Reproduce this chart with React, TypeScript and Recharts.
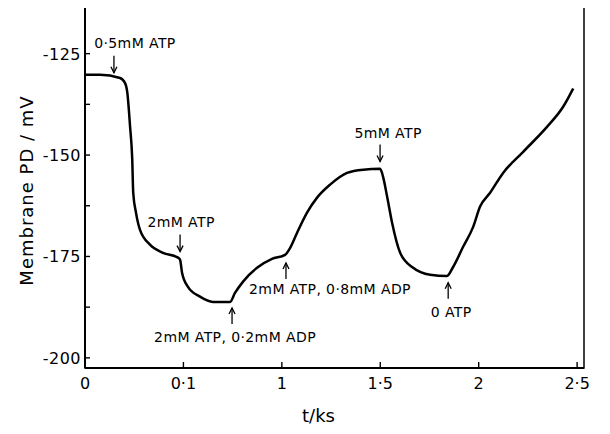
import React from 'react';
import { LineChart, Line, XAxis, YAxis, ReferenceArea, ReferenceDot, Label } from 'recharts';

const timeKs = [
  0, 0.076, 0.178, 0.203, 0.215, 0.229, 0.24, 0.245, 0.259, 0.279, 0.33, 0.396, 0.473, 0.483,
  0.493, 0.523, 0.584, 0.65, 0.737, 0.762, 0.803, 0.874, 0.95, 1.016, 1.042, 1.077,
  1.128, 1.179, 1.245, 1.331, 1.413, 1.499, 1.514, 1.535, 1.56, 1.601, 1.667,
  1.753, 1.839, 1.87, 1.921, 1.972, 2.007, 2.058, 2.124, 2.226, 2.348, 2.429, 2.48,
];
const membranePD = [
  -130.2, -130.2, -131.0, -132.2, -134.6, -143.0, -151.1, -159.3, -164.2, -168.4, -172.1, -174.1, -175.3, -175.8,
  -179.0, -182.5, -184.9, -186.2, -186.2, -184.0, -181.2, -177.8, -175.6, -174.6, -172.9, -169.2,
  -164.2, -160.5, -157.3, -154.4, -153.6, -153.4, -155.3, -160.3, -166.7, -174.1, -177.8,
  -179.5, -179.8, -177.6, -172.6, -167.7, -162.7, -159.3, -154.4, -149.2, -143.0, -138.1, -133.6,
];

const xTicks = [0, 0.5, 1, 1.5, 2, 2.5];
const xTickLabels = ['0', '0·1', '1', '1·5', '2', '2·5'];
const yMajorTicks = [-200, -175, -150, -125];
const yMinorTicks = [-187.5, -162.5, -137.5];
const xDomain = [0, 2.535];
const yDomain = [-202.5, -113.5];

const annotationLabels = ['0·5mM ATP', '2mM ATP', '2mM ATP, 0·2mM ADP', '2mM ATP, 0·8mM ADP', '5mM ATP', '0 ATP'];
const annotationX = [0.147, 0.483, 0.747, 1.021, 1.499, 1.845];
const annotationY = [-129.7, -173.8, -187.7, -176.6, -151.6, -181.5];
const annotationDir = ['down', 'down', 'up', 'up', 'down', 'up'];
// text centre offsets relative to arrow tip (pixels, style only)
const annotationDx = [21, 1, 3, 44, 8, 3];
const annotationDy = [-30, -30, 29, 26, -29, 29];

const data = timeKs.map((t, i) => ({ t, v: membranePD[i] }));
const FONT = '"DejaVu Sans", sans-serif';

const XTick = (props: any) => {
  const { x, y, payload } = props;
  const i = xTicks.indexOf(payload.value);
  return (
    <g>
      <line x1={x} x2={x} y1={y} y2={y - 6} stroke="#000" strokeWidth={1.4} />
      <text x={x} y={y + 21} textAnchor="middle" fontFamily={FONT} fontSize={16} fill="#000">
        {i >= 0 ? xTickLabels[i] : ''}
      </text>
    </g>
  );
};

const YTick = (props: any) => {
  const { x, y, payload } = props;
  const major = yMajorTicks.includes(payload.value);
  return (
    <g>
      <line x1={x} x2={x + 5} y1={y} y2={y} stroke="#000" strokeWidth={1.4} />
      {major && (
        <text x={x - 4} y={y + 6} textAnchor="end" fontFamily={FONT} fontSize={16} fill="#000" letterSpacing={0.5}>
          {String(payload.value)}
        </text>
      )}
    </g>
  );
};

const makeAnnotation = (i: number) => (p: any) => {
  const { cx, cy } = p;
  const down = annotationDir[i] === 'down';
  const len = down ? 17 : 16;
  const tailY = down ? cy - len : cy + len;
  const headY = down ? cy - 6 : cy + 6;
  return (
    <g>
      <line x1={cx} x2={cx} y1={tailY} y2={cy} stroke="#000" strokeWidth={1.3} />
      <path d={`M${cx - 3},${headY} L${cx},${cy} L${cx + 3},${headY}`} fill="none" stroke="#000" strokeWidth={1.3} />
      <text
        x={cx + annotationDx[i]}
        y={cy + annotationDy[i] + 5}
        textAnchor="middle"
        fontFamily={FONT}
        fontSize={14}
        letterSpacing={0.4}
        fill="#000"
      >
        {annotationLabels[i]}
      </text>
    </g>
  );
};

export default function App() {
  return (
    <div style={{ margin: -8, width: 610, height: 434, background: '#fff' }}>
      <LineChart width={610} height={434} data={data} margin={{ top: 7, right: 26, left: 0, bottom: 0 }}>
        <XAxis
          dataKey="t"
          type="number"
          domain={xDomain}
          ticks={xTicks}
          interval={0}
          allowDataOverflow
          height={66}
          tickSize={0}
          tickMargin={0}
          tickLine={false}
          tick={<XTick />}
          stroke="#000"
          strokeWidth={2}
        >
          <Label value="t/ks" position="insideBottom" offset={12} dx={-16} fontFamily={FONT} fontSize={18} fill="#000" />
        </XAxis>
        <YAxis
          type="number"
          domain={yDomain}
          ticks={[...yMajorTicks, ...yMinorTicks].sort((a, b) => a - b)}
          interval={0}
          allowDataOverflow
          width={85}
          tickSize={0}
          tickMargin={0}
          tickLine={false}
          tick={<YTick />}
          stroke="#000"
          strokeWidth={2}
        >
          <Label
            value="Membrane PD / mV"
            angle={-90}
            position="insideLeft"
            offset={27}
            dy={3}
            fontFamily={FONT}
            fontSize={18}
            letterSpacing={1}
            fill="#000"
            style={{ textAnchor: 'middle' }}
          />
        </YAxis>
        <ReferenceArea
          x1={xDomain[0]}
          x2={xDomain[1]}
          y1={yDomain[0]}
          y2={yDomain[1]}
          fill="none"
          fillOpacity={0}
          stroke="#000"
          strokeWidth={1.5}
        />
        <Line
          type="monotone"
          dataKey="v"
          stroke="#000"
          strokeWidth={2.5}
          dot={false}
          isAnimationActive={false}
        />
        {annotationLabels.map((_, i) => (
          <ReferenceDot key={i} x={annotationX[i]} y={annotationY[i]} r={1} shape={makeAnnotation(i)} />
        ))}
      </LineChart>
    </div>
  );
}
